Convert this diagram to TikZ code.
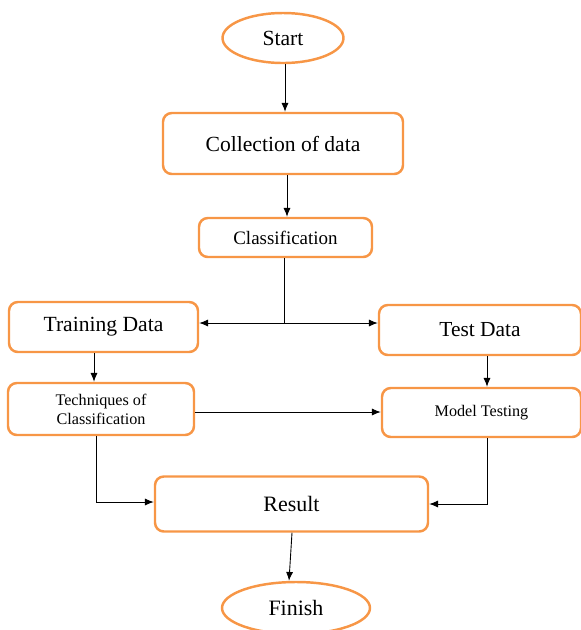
\documentclass[tikz,border=0pt]{standalone}
\usepackage{fontspec}
\setmainfont{Liberation Serif}
\usetikzlibrary{arrows.meta,shapes.geometric}
\definecolor{boxorange}{HTML}{F79646}
\tikzset{
    stepbox/.style={draw=boxorange, line width=1.4pt, rounded corners=5pt, fill=white, align=center, inner sep=0pt},
    endbox/.style={draw=boxorange, line width=1.4pt, ellipse, fill=white, inner sep=0pt},
    flow/.style={-{Latex[length=5pt,width=4pt]}, line width=0.5pt, black}
}
\begin{document}
\begin{tikzpicture}[x=0.02cm, y=-0.02cm]
    \useasboundingbox (0, 0) rectangle (581, 630);
    
    % Start and end
    \node[endbox, minimum width=121*0.02cm, minimum height=50*0.02cm, font=\fontsize{12.3pt}{15pt}\selectfont] (start) at (283, 38) {Start};
    \node[endbox, minimum width=148*0.02cm, minimum height=52*0.02cm, font=\fontsize{12.5pt}{15pt}\selectfont] (finish) at (296, 608) {Finish};
    
    % Steps
    \node[stepbox, minimum width=240*0.02cm, minimum height=61*0.02cm, font=\fontsize{12.3pt}{15pt}\selectfont] (collect) at (283, 143.5) {Collection of data};
    \node[stepbox, minimum width=173*0.02cm, minimum height=39*0.02cm, font=\fontsize{10.8pt}{13pt}\selectfont] (classif) at (285.5, 237.5) {Classification};
    \node[stepbox, minimum width=189*0.02cm, minimum height=50*0.02cm, font=\fontsize{12.3pt}{15pt}\selectfont] (train) at (103.5, 327) {Training Data};
    \node[stepbox, minimum width=202*0.02cm, minimum height=50*0.02cm, font=\fontsize{12.2pt}{15pt}\selectfont] (test) at (480, 330) {Test Data};
    \node[stepbox, minimum width=186*0.02cm, minimum height=52*0.02cm, font=\fontsize{9.2pt}{10.8pt}\selectfont] (tech) at (101, 409) {Techniques of\\Classification};
    \node[stepbox, minimum width=199*0.02cm, minimum height=49*0.02cm, font=\fontsize{9.2pt}{11pt}\selectfont] (model) at (481.5, 412.5) {Model Testing};
    \node[stepbox, minimum width=273*0.02cm, minimum height=55*0.02cm, font=\fontsize{12.5pt}{15pt}\selectfont] (result) at (291.5, 504) {Result};
    
    % Connectors
    \draw[flow] (start.south -| 285, 0) -- (collect.north -| 285, 0);
    \draw[flow] (collect.south -| 287, 0) -- (classif.north -| 287, 0);
    \coordinate (split) at (284, 323);
    \draw[line width=0.5pt] (classif.south -| split) -- (split);
    \draw[flow] (split) -- (train.east |- split);
    \draw[flow] (split) -- (test.west |- split);
    \draw[flow] (train.south -| 94, 0) -- (tech.north -| 94, 0);
    \draw[flow] (test.south -| 487, 0) -- (model.north -| 487, 0);
    \draw[flow] (tech.east |- 0, 412) -- (model.west |- 0, 412);
    \draw[flow] (tech.south -| 96, 0) |- (result.west |- 0, 502);
    \draw[flow] (model.south -| 487, 0) |- (result.east |- 0, 504);
    \draw[flow] (result.south -| 292, 0) -- (finish.north -| 289, 0);
\end{tikzpicture}
\end{document}
